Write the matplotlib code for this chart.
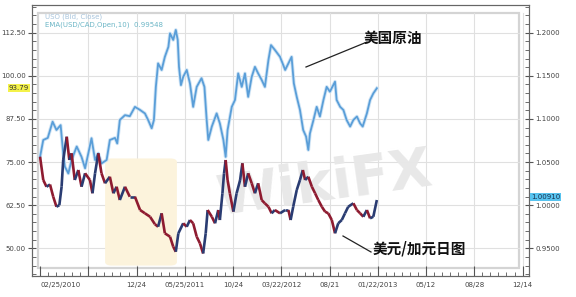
import matplotlib
matplotlib.use("Agg")
import matplotlib.pyplot as plt
import matplotlib.transforms as mtransforms
from matplotlib.collections import LineCollection
from matplotlib.patches import Rectangle, FancyBboxPatch
import numpy as np

# oil (USO close), days after 2010-02-25, left axis
oil_days = [2, 12, 26, 41, 53, 66, 74, 79, 90, 100, 116, 131, 142, 152, 162, 173, 183, 193,
            209, 219, 235, 242, 250, 266, 281, 297, 313, 328, 338, 349, 356, 362, 369, 380,
            390, 401, 406, 416, 424, 430, 434, 440, 447, 458, 468, 478, 489, 504, 513, 520,
            525, 536, 551, 561, 572, 579, 585, 598, 608, 618, 629, 639, 649, 660, 670, 680,
            691, 701, 712, 720, 732, 748, 764, 774, 784, 791, 800, 810, 820, 829, 836, 841,
            852, 862, 872, 883, 893, 903, 919, 924, 935, 945, 955, 966, 976, 987, 997, 1005,
            1018, 1028, 1038, 1049]
oil_vals = [76.5, 81.4, 82.0, 86.7, 84.3, 85.7, 77.5, 73.7, 71.7, 75.6, 79.5, 76.5, 73.2, 77.5,
            81.9, 75.6, 77.5, 74.6, 75.6, 81.4, 82.0, 80.4, 87.2, 88.6, 88.3, 91.0, 90.1, 89.1,
            87.2, 84.8, 87.2, 96.8, 103.6, 101.7, 105.5, 108.4, 112.3, 110.4, 113.3, 110.4,
            102.6, 97.3, 99.7, 101.7, 97.8, 91.0, 96.8, 99.3, 96.8, 87.2, 81.4, 85.3, 89.1,
            86.2, 81.4, 76.5, 84.3, 91.0, 93.0, 100.7, 96.8, 100.7, 93.9, 99.7, 102.6, 100.7,
            98.8, 96.8, 104.6, 108.9, 107.5, 105.5, 101.7, 103.6, 105.5, 97.8, 93.9, 90.1,
            84.3, 82.4, 78.5, 83.3, 87.2, 91.0, 88.2, 93.0, 96.8, 95.4, 98.3, 93.0, 91.0, 90.1,
            87.2, 85.3, 87.2, 88.2, 86.2, 85.3, 89.1, 93.0, 94.9, 96.4]

# USD/CAD daily, right axis
cad_days = [2, 12, 22, 33, 43, 53, 62, 69, 74, 85, 93, 100, 110, 121, 131, 142, 157, 165, 173,
            183, 193, 204, 219, 230, 240, 250, 266, 281, 297, 313, 328, 344, 359, 369, 380, 390,
            406, 416, 424, 432, 447, 458, 468, 478, 489, 499, 509, 517, 523, 536, 546, 556, 561,
            569, 574, 579, 585, 592, 603, 613, 624, 631, 639, 649, 660, 670, 680, 691, 701, 712,
            722, 732, 748, 764, 774, 781, 789, 800, 810, 819, 826, 836, 847, 857, 867, 878, 888,
            898, 909, 919, 929, 940, 950, 960, 976, 987, 997, 1007, 1018, 1028, 1038, 1049]
cad_vals = [1.0562, 1.0292, 1.0214, 1.0240, 1.0098, 0.9982, 1.0000, 1.0214, 1.0524, 1.0794,
            1.0524, 1.0602, 1.0292, 1.0408, 1.0214, 1.0370, 1.0292, 1.0138, 1.0370, 1.0602,
            1.0370, 1.0254, 1.0330, 1.0138, 1.0214, 1.0060, 1.0214, 1.0098, 1.0098, 0.9944,
            0.9906, 0.9866, 0.9780, 0.9750, 0.9906, 0.9674, 0.9635, 0.9519, 0.9460, 0.9674,
            0.9790, 0.9750, 0.9828, 0.9790, 0.9635, 0.9558, 0.9440, 0.9674, 0.9944, 0.9866,
            0.9790, 0.9944, 0.9828, 1.0138, 1.0370, 1.0524, 1.0292, 1.0138, 0.9925, 1.0138,
            1.0292, 1.0486, 1.0214, 1.0370, 1.0254, 1.0138, 1.0254, 1.0060, 1.0021, 0.9982,
            0.9906, 0.9944, 0.9906, 0.9944, 0.9944, 0.9828, 0.9982, 1.0176, 1.0292, 1.0408,
            1.0292, 1.0330, 1.0214, 1.0138, 1.0060, 0.9982, 0.9925, 0.9906, 0.9828, 0.9674,
            0.9790, 0.9828, 0.9906, 0.9982, 1.0022, 0.9944, 0.9906, 0.9866, 0.9944, 0.9848,
            0.9866, 1.0060]

x_ticks = [2, 152, 302, 452, 602, 752, 902, 1052, 1202, 1352, 1502]
x_labels = ['02/25/2010', '', '12/24', '05/25/2011', '10/24', '03/22/2012', '08/21',
            '01/22/2013', '05/12', '08/28', '12/14']
left_ticks = [50.0, 62.5, 75.0, 87.5, 100.0, 112.5]
right_ticks = [0.95, 1.00, 1.05, 1.10, 1.15, 1.20]

oil_last_label = '93.79'
cad_last = 1.00910
legend1 = 'USO (Bid, Close)'
legend2 = 'EMA(USD/CAD,Open,10)  0.99548'

W, H = 576, 297
fig = plt.figure(figsize=(W / 100, H / 100), dpi=100)
fig.patch.set_facecolor('white')

def fx(px):
    return px / W

def fy(py):
    return 1 - py / H

ax = fig.add_axes([fx(32), fy(276), fx(529) - fx(32), fy(5) - fy(276)])
ax2 = ax.twinx()
ax.set_zorder(1)
ax2.set_zorder(2)
ax2.patch.set_visible(False)

ax.set_xlim(-23, 1522)
ax.set_ylim(41.97, 120.53)
ax2.set_ylim(0.9179, 1.2321)

# inner panel box
ax.add_patch(Rectangle((fx(38), fy(268)), fx(519) - fx(38), fy(13) - fy(268),
                       transform=fig.transFigure, fill=False, ec='#d4d4d4', lw=1.6,
                       zorder=0, clip_on=False))

# grid
for v in left_ticks:
    ax.axhline(v, xmin=0.012, xmax=0.98, color='#e0e0e0', lw=0.8, zorder=0)
for d in x_ticks[1:]:
    ax.axvline(d, ymin=0.03, ymax=0.97, color='#e0e0e0', lw=0.8, zorder=0)

# watermark
ax.add_patch(FancyBboxPatch((fx(112), fy(262)), fx(170) - fx(112), fy(162) - fy(262),
                            boxstyle='round,pad=0.012', transform=fig.transFigure,
                            fc='#fcf3dc', ec='none', zorder=0.5))
ax.text(fx(325), fy(185), 'WikiFX', transform=fig.transFigure, fontsize=40,
        fontweight='bold', color='#e8e8e8', ha='center', va='center', rotation=8,
        zorder=0.6)

# oil line
ax.plot(oil_days, oil_vals, color='#cfe4f5', lw=2.6, zorder=3)
ax.plot(oil_days, oil_vals, color='#5a9ed8', lw=1.3, zorder=4)

# usd/cad coloured by direction
pts = np.column_stack([cad_days, cad_vals])
segs = np.stack([pts[:-1], pts[1:]], axis=1)
cols = ['#2a3c72' if b >= a else '#8e1b30' for a, b in zip(cad_vals[:-1], cad_vals[1:])]
ax2.add_collection(LineCollection(segs, colors=cols, lw=1.9, zorder=3))

# ticks
ax.set_xticks(x_ticks)
ax.set_xticklabels(x_labels)
ax.set_xticks(np.arange(2, 1522, 25), minor=True)
ax.xaxis.get_ticklabels()[0].set_ha('left')
ax.set_yticks(left_ticks)
ax.set_yticklabels(['%.2f' % v for v in left_ticks])
ax.set_yticks(np.arange(42.5, 120.5, 2.5), minor=True)
ax2.set_yticks(right_ticks)
ax2.set_yticklabels(['%.4f' % v for v in right_ticks])
ax2.set_yticks(np.arange(0.92, 1.232, 0.01), minor=True)

ax.tick_params(axis='x', which='major', direction='in', length=7, width=0.8, colors='#555555',
               labelsize=5, pad=4, labelcolor='#444444')
ax.tick_params(axis='x', which='minor', direction='in', length=3, width=0.6, colors='#555555')
ax.tick_params(axis='y', which='major', direction='inout', length=6, width=0.8, colors='#555555',
               labelsize=5, pad=1.5, labelcolor='#444444')
ax.tick_params(axis='y', which='minor', direction='in', length=3, width=0.6, colors='#555555')
ax2.tick_params(axis='y', which='major', direction='inout', length=6, width=0.8, colors='#555555',
                labelsize=5, pad=1.5, labelcolor='#444444')
ax2.tick_params(axis='y', which='minor', direction='in', length=3, width=0.6, colors='#555555')

for a in (ax, ax2):
    for s in a.spines.values():
        s.set_color('#666666')
        s.set_linewidth(0.8)

# last value tags
tl = mtransforms.blended_transform_factory(fig.transFigure, ax.transData)
ax.text(fx(29), oil_vals[-1], oil_last_label, transform=tl, ha='right', va='center',
        fontsize=5, color='#333333', clip_on=False,
        bbox=dict(boxstyle='square,pad=0.15', fc='#f4f24a', ec='none'))
tr = mtransforms.blended_transform_factory(fig.transFigure, ax2.transData)
ax2.text(fx(531), cad_last, '%.5f' % cad_last, transform=tr, ha='left', va='center',
         fontsize=5, color='#1a3350', clip_on=False,
         bbox=dict(boxstyle='square,pad=0.15', fc='#57c3ef', ec='none'))

# legend text
fig.text(fx(45), fy(17), legend1, fontsize=5, color='#a7c4dc', va='center', zorder=5)
fig.text(fx(45), fy(25), legend2, fontsize=5, color='#6cb6c6', va='center', zorder=5)

# annotations
cjk = ['Noto Sans CJK SC', 'DejaVu Sans']
fig.add_artist(plt.Line2D([fx(306), fx(367)], [fy(67), fy(42)], color='#222222', lw=0.9))
fig.text(fx(364), fy(38), '美国原油', fontsize=10.5, fontweight='bold', family=cjk,
         ha='left', va='center', color='#111111', zorder=5)
fig.add_artist(plt.Line2D([fx(343), fx(371)], [fy(236), fy(252)], color='#222222', lw=0.9))
fig.text(fx(373), fy(249), '美元/加元日图', fontsize=10.5, fontweight='bold', family=cjk,
         ha='left', va='center', color='#111111', zorder=5)

fig.savefig('out.png', dpi=100)
